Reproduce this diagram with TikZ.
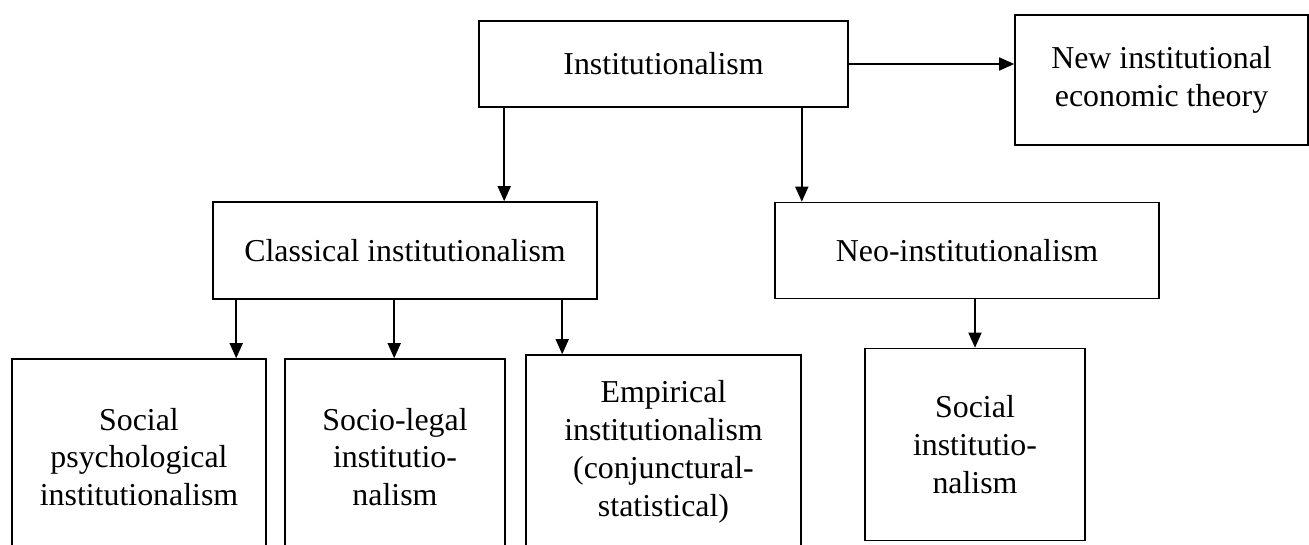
\documentclass[tikz,border=0pt]{standalone}
\usepackage{fontspec}
\setmainfont{Liberation Serif}
\usetikzlibrary{positioning, arrows.meta}

\begin{document}
\begin{tikzpicture}
	[x=1bp, y=-1bp, on grid,
	 box/.style={draw, line width=1.6bp, inner sep=0pt, align=center,
	   font=\fontsize{32}{38}\selectfont},
	 link/.style={line width=1.6bp, -{Triangle[length=15bp,width=13bp]}}]
   \useasboundingbox (0,0) rectangle (1309,545);
   \node[box, minimum width=369bp, minimum height=86bp] (inst) at (663.5,64) {Institutionalism};
   \node[box, minimum width=293bp, minimum height=130bp] (new_econ) [below right=16bp and 498bp of inst] {New institutional\\economic theory};
   \node[box, minimum width=384bp, minimum height=97bp] (classic) [below left=186.5bp and 258.5bp of inst] {Classical institutionalism};
   \node[box, minimum width=384bp, minimum height=96bp] (neo) [right=562bp of classic] {Neo-institutionalism};
   \node[box, minimum width=220bp, minimum height=192bp] (soc_inst) [below right=194bp and 8bp of neo] {Social\\institutio-\\nalism};
   \node[box, minimum width=254bp, minimum height=196bp] (soc_psych) [below left=206.5bp and 266bp of classic] {Social\\psychological\\institutionalism};
   \node[box, minimum width=220bp, minimum height=196bp] (soc_legal) [right=256bp of soc_psych] {Socio-legal\\institutio-\\nalism};
   \node[box, minimum width=275bp, minimum height=194bp] (empiric) [above right=5bp and 268.5bp of soc_legal] {Empirical\\institutionalism\\(conjunctural-\\statistical)};
   \draw[link] (inst.east) -- (inst.east -| new_econ.west);
   \draw[link] ([xshift=26bp]inst.south west) -- ([xshift=26bp]inst.south west |- classic.north);
   \draw[link] ([xshift=-47bp]inst.south east) -- ([xshift=-47bp]inst.south east |- neo.north);
   \draw[link] ([xshift=24bp]classic.south west) -- ([xshift=24bp]classic.south west |- soc_psych.north);
   \draw[link] ([xshift=182bp]classic.south west) -- ([xshift=182bp]classic.south west |- soc_legal.north);
   \draw[link] ([xshift=350bp]classic.south west) -- ([xshift=350bp]classic.south west |- empiric.north);
   \draw[link] (neo.south -| soc_inst.north) -- (soc_inst.north);
\end{tikzpicture}
\end{document}
